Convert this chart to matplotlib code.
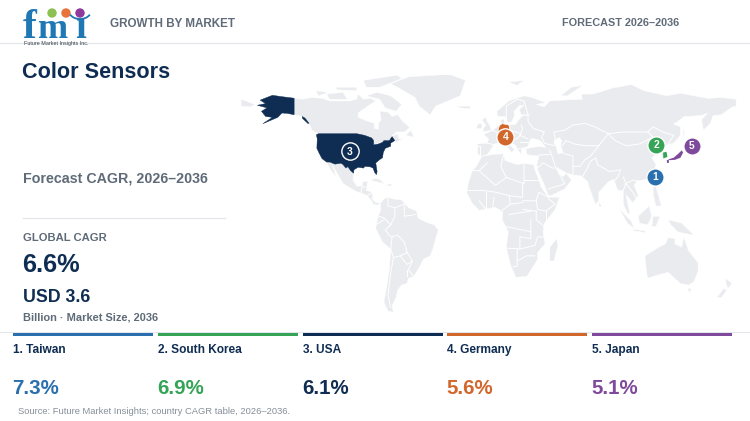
import matplotlib
matplotlib.use("Agg")
import matplotlib.pyplot as plt
from matplotlib.patches import Polygon, Circle, Rectangle, Arc

plt.rcParams['font.family'] = ['Liberation Sans', 'DejaVu Sans']

NAVY = '#0f2d52'; GREY = '#5f6b78'; LAND = '#e9ebee'; RULE = '#e3e6ea'
BLUE = '#2b70ae'; GREEN = '#36a457'; ORANGE = '#d2672c'; PURPLE = '#7f4a9c'

markets = ['1. Taiwan', '2. South Korea', '3. USA', '4. Germany', '5. Japan']
cagr = ['7.3%', '6.9%', '6.1%', '5.6%', '5.1%']
colors = [BLUE, GREEN, NAVY, ORANGE, PURPLE]
marker_lon = [121.7, 122.4, -102.9, 11.4, 148.3]
marker_lat = [24.1, 42.4, 38.8, 47.3, 41.9]
card_x = [13, 158, 303, 447, 592]

land = [
 [(-141,69.6),(-135,69),(-128,70),(-120,69.5),(-115,68),(-108,68),(-100,68),(-95,69),(-94,72),(-90,69),(-85,69.5),(-81,68),(-87,65),(-94,61),(-94,58.5),(-88,56.5),(-82,55),(-82,52),(-79,51.5),(-79,55),(-77,57),(-78,62),(-72,61.5),(-69,59),(-65,60),(-61,56),(-56,52.5),(-60,50),(-66,50),(-70,47),(-65,49),(-64,46),(-61,46),(-66,44),(-67,45),(-69,47),(-71,45),(-75,45),(-79,43.5),(-83,42),(-82,45),(-88,48),(-95,49),(-123,49),(-128,51),(-130,55),(-135,59),(-141,60)],
 [(-117,32.5),(-114.8,32.5),(-111,31.3),(-106.5,31.8),(-105,31),(-103,29),(-101.5,29.8),(-99.5,27.5),(-97.3,26),(-97.8,22),(-95,18.5),(-91,18.5),(-90.5,21),(-87,21.5),(-88,16),(-83.5,15),(-83.5,11),(-81,9),(-77.5,8.5),(-79.5,7.5),(-83,8),(-87,13),(-92,14.5),(-96,15.7),(-105,20),(-109,25.5),(-113,31),(-110,23.5),(-115,29)],
 [(-77.5,8.5),(-75,11),(-72,12),(-68,11),(-62,10.5),(-57,6),(-51,4),(-50,0),(-44,-2.5),(-38,-4),(-35,-7),(-37,-12),(-39,-18),(-41,-22),(-46,-24),(-48.5,-28),(-53,-34),(-57,-35),(-58,-38),(-62,-39),(-65,-42),(-66,-46),(-69,-51),(-68,-55),(-72,-54),(-75,-49),(-73,-40),(-71,-30),(-70,-18),(-76,-14),(-81,-6),(-80,-2),(-79,1.5),(-77.5,4)],
 [(-6,35.8),(3,37),(10,37.3),(11,33.5),(15,32.3),(20,31),(25,31.7),(32,31),(33,28),(36,22),(37.5,18),(43,12),(51,12),(48,5),(40,-3),(39,-8),(40.5,-15),(35,-20),(35,-24),(32,-28),(27,-34),(19,-34.5),(15,-27),(12,-17),(13.5,-8),(9,-1),(9.5,3.5),(4,6.2),(-4,5),(-8,4.5),(-13,8.5),(-17,14.5),(-16,20),(-13,27.5),(-10,30)],
 [(49,-12),(50,-16),(47,-25),(44,-25),(44,-17)],
 [(-9,37),(-9,43),(-2,43.5),(-1,46),(-4.5,48.5),(2,51),(6,53.5),(8.5,54),(8,57),(10.5,57.5),(10.5,54.5),(14,54),(19,54.5),(21,57),(24,59.3),(30,60),(23,60),(21.5,63),(25,65.5),(22,65.5),(17.5,62),(18,59.5),(16,56),(13,55.5),(11,59),(5.5,59),(5,62),(14,68),(25,71),(31,70),(41,67),(34,66),(40,64.5),(44,68),(54,68.5),(68,69),(67,72),(75,72),(80,73),(90,75.5),(104,77.5),(113,74),(130,71),(140,72.5),(160,69.5),(170,70),(181,69),(181,65),(178,64.5),(170,60),(164,59.5),(162,55),(157,51),(155.5,57),(160,61),(155,59.5),(143,59),(135,54.5),(140,53),(140,48),(135,43.5),(130,42.5),(127.5,39.5),(129.5,36),(127,34.5),(126,37),(125,39.7),(121,39),(118,39),(122,37),(119,35),(122,31),(120,26),(114,22.3),(108,21.5),(106,19),(109,13),(105,9),(100,13.5),(103,2),(101,3),(98,8),(98,16),(94,16),(91,22.5),(87,21),(80,15),(80,10),(77.5,8),(73,18),(72,21),(67,24.5),(61,25),(57,26),(52,28),(48,30),(51,25),(54,24),(56,26),(60,22),(55,17),(45,13),(43,13),(39,21),(35,28),(34.5,31),(36,36),(30,36.5),(27,37),(26.5,40),(31,41),(36,41.5),(41,41),(37,45),(33,46),(30,46),(28,42),(26,40.5),(23,40),(23,37),(20,40),(19,42),(14,45),(12.5,44),(18,40),(16,38),(12,42),(8.5,44),(3,43),(0,39),(-2,37),(-5.5,36)],
 [(-5,50),(1,51),(0,53.5),(-2,56),(-3,58.5),(-6,57),(-3,54),(-5,52)],
 [(-10,52),(-6,52),(-6,55),(-9,54.5)],
 [(-24,65),(-14,65),(-15,63.5),(-22,64)],
 [(-73,78),(-60,82),(-30,83.5),(-18,80),(-22,71),(-40,65),(-44,60),(-52,65),(-55,70),(-68,76)],
 [(-80,73),(-70,71),(-62,66),(-66,62),(-74,64),(-78,69),(-88,71)],
 [(-117,72),(-105,73),(-102,69),(-115,69)],
 [(-90,80),(-65,83),(-62,81),(-78,76),(-88,76)],
 [(-125,74),(-116,73),(-123,71)],
 [(-110,76),(-95,76),(-95,74),(-110,74.5)],
 [(-59,48),(-53,47),(-55,51)],
 [(-85,22),(-75,20),(-78,22.5),(-82,23)],
 [(-74,19),(-69,18.5),(-70,20)],
 [(14,79),(25,80),(20,77)],
 [(52,71),(57,71),(68,77),(60,76)],
 [(142,54),(143,49),(142,46),(142,50)],
 [(80,9.5),(82,7),(80.5,6)],
 [(120,18),(122,18),(124,13),(126,7),(122,7),(120,14)],
 [(109,1),(117,7),(119,1),(116,-4),(110,-3)],
 [(95,5.5),(104,-2),(106,-6),(101,-3)],
 [(105,-6.5),(114,-7.5),(114,-8.5),(106,-7.5)],
 [(120,1),(125,1),(122,-5),(119,-5)],
 [(131,-1),(141,-3),(150,-10),(143,-9),(138,-8),(133,-4)],
 [(114,-22),(122,-18),(129,-15),(131,-11.5),(136,-12),(136,-15),(141,-17),(142.5,-11),(146,-19),(153,-26),(153,-31),(150,-37),(146,-39),(140,-38),(135,-34.5),(131,-31.5),(124,-33),(116,-35),(115,-31)],
 [(145,-41),(148,-41),(147,-43.5)],
 [(173,-35),(178,-38),(175,-41),(174,-39)],
 [(172,-41),(174,-42),(170,-46.5),(167,-46)],
 [(-180,69),(-170,66),(-173,64.5),(-180,65)],
]
caspian = [(47,45),(51,47),(53,45),(52,42),(54,38),(50,37),(49,40)]
borders = [
 [(28,60),(28,56),(32,52),(40,50),(38,47),(40,43.5),(47,42),(48,46),(47,50),(55,51),(61,54),(70,55),(77,53),(87,49),(98,50),(107,50),(116,50),(120,53),(127,50),(135,48),(131,43)],
 [(87,49),(92,45),(100,42),(110,43),(120,47),(116,50)],
 [(53,42),(56,45),(62,43),(70,42),(80,42),(87,49)],
 [(68,24),(71,28),(74,33),(78,35),(79,31),(88,27),(96,28),(94,24),(92,22)],
 [(61,25),(61,30),(66,30),(70,34),(74,36),(80,42)],
 [(48,30),(46,35),(44,39.5)],
 [(54,37.5),(61,36),(61,30)],
 [(35,29),(39,32),(46,29),(48,29)],
 [(43,17),(52,19),(55,20),(52,24)],
 [(36,36.5),(44,37)],
 [(98,24),(100,20),(105,22),(108,21.5)],
 [(100,20),(105,15),(107,12)],
 [(98,16),(100,20)],
 [(2,51),(7,49),(7,46),(14,46),(20,46),(22,48),(24,52),(23,54)],
 [(14,54),(15,51),(23,49)],
 [(-2,43.5),(3,42.5)],
 [(-7,37),(-7,42),(-9,42)],
 [(22,48),(28,46)],
 [(22,44),(28,44)],
 [(20,40),(26,41)],
 [(12,56),(12,65),(20,69),(25,68),(28,60)],
 [(-8,27.5),(-2,32)],
 [(-13,27.5),(-8,27.5),(4,19),(12,23.5),(25,20),(25,31.7)],
 [(25,22),(36,22)],
 [(10,37),(8,30),(12,23.5)],
 [(-16,16),(-5,16),(4,15),(14,13),(24,12),(24,20)],
 [(24,10),(34,10),(36,15),(43,12)],
 [(34,10),(35,5),(41,4),(48,8),(43,11)],
 [(41,4),(41,-2)],
 [(34,4),(34,-1),(40,-5)],
 [(14,13),(15,8),(9,4.5)],
 [(15,8),(24,9)],
 [(24,5),(34,4)],
 [(14,2),(30,4)],
 [(12,-5),(30,-8)],
 [(30,-1),(30,-12),(22,-11),(22,-18),(12,-17.5)],
 [(20,-18),(20,-28),(17,-28.5)],
 [(22,-18),(33,-16),(35,-11),(40,-11)],
 [(33,-22),(27,-22),(20,-25)],
 [(-8,10),(-3,5)],
 [(-3,15),(-3,5)],
 [(3,12),(2,6)],
 [(-72,12),(-72,7),(-67,6),(-67,1),(-70,-4),(-74,-7),(-70,-11),(-65,-10),(-60,-14),(-58,-20),(-54,-25),(-57,-30),(-53,-34)],
 [(-60,5),(-60,1),(-52,2)],
 [(-67,6),(-60,8),(-60,5)],
 [(-79,1),(-75,0),(-70,-4)],
 [(-80,-3.5),(-75,-1)],
 [(-70,-18),(-69,-11)],
 [(-70,-18),(-68,-23),(-70,-32),(-72,-45),(-70,-52)],
 [(-68,-23),(-63,-22),(-58,-20)],
 [(-63,-22),(-58,-27),(-54,-25)],
 [(-58,-34),(-58,-30)],
 [(-92,14.5),(-91,18),(-89,18)],
 [(-87,13),(-83.5,15)],
 [(-85,11),(-83,8)],
]
usa = [
 [(-124.7,48.4),(-123,49),(-95,49),(-89,48),(-84,46.5),(-82.5,45),(-82.5,42.5),(-79,43),(-76,44),(-75,45),(-71,45),(-69,47.3),(-67,45),(-70,43.5),(-70,41.7),(-74,40.5),(-75.5,38),(-76,35),(-78,34),(-81,32),(-80,27),(-80.5,25.2),(-81.8,26.5),(-83,29),(-85,29.7),(-89,30),(-90,29),(-94,29.5),(-97,28),(-97.3,26),(-99.5,27.5),(-101.5,29.8),(-103,29),(-105,31),(-106.5,31.8),(-111,31.3),(-114.8,32.5),(-117.1,32.5),(-120.5,34.5),(-122.5,37.5),(-124.3,40.5),(-124,46)],
 [(-141,69.6),(-150,70.5),(-157,71.3),(-166,68.5),(-162,66.5),(-168,65.5),(-161,64),(-165,62),(-162,59),(-157,58.5),(-164,54.8),(-153,58.5),(-150,61),(-146,60.8),(-141,60)],
 [(-135,59),(-133,58),(-130,55),(-131,55),(-135,58)],
]
germany = [(6,51),(7,53.7),(9,54.8),(14,54),(15,51),(13,48),(8,47.6)]
korea = [(127.3,38),(129.8,38.5),(130.5,35.5),(127.5,34.6)]
japan = [
 [(130,33.6),(131.5,33.8),(131.5,32),(130.2,32)],
 [(131,34),(135,35),(138,37),(141,39.3),(142,38),(140,35),(136,33.8),(132,33.6)],
]
AMERICAS_NUDGE = 3

def nudged(pts):
    if sum(p[0] for p in pts) / len(pts) < -50:
        return [(x - AMERICAS_NUDGE, y) for x, y in pts]
    return pts

fig = plt.figure(figsize=(7.5, 4.21), dpi=100, facecolor='white')

mp = fig.add_axes([235/750, 1-325/421, 515/750, 250/421])
mp.set_xlim(-187.5, 191.2); mp.set_ylim(-62.2, 83.1); mp.axis('off')
for poly in land:
    mp.add_patch(Polygon(nudged(poly), closed=True, fc=LAND, ec='white', lw=0.3))
mp.add_patch(Polygon(caspian, closed=True, fc='white', ec='none'))
for line in borders:
    xs, ys = zip(*nudged(line))
    mp.plot(xs, ys, color='white', lw=0.7, solid_joinstyle='round')
for poly in usa:
    mp.add_patch(Polygon(nudged(poly), closed=True, fc=NAVY, ec=NAVY, lw=0.3))
mp.add_patch(Polygon(germany, closed=True, fc=ORANGE, ec='white', lw=0.4))
mp.add_patch(Polygon(korea, closed=True, fc=GREEN, ec='none'))
for poly in japan:
    mp.add_patch(Polygon(poly, closed=True, fc=PURPLE, ec='none'))
for i, (lo, la, c) in enumerate(zip(marker_lon, marker_lat, colors)):
    mp.scatter([lo], [la], s=155, color=c, edgecolors='white', linewidths=1.0, zorder=5)
    mp.text(lo, la - 0.2, str(i + 1), color='white', fontsize=7.4, fontweight='bold',
            ha='center', va='center', zorder=6)

ax = fig.add_axes([0, 0, 1, 1], facecolor='none')
ax.set_xlim(0, 750); ax.set_ylim(421, 0); ax.axis('off')

ax.plot([0, 750], [42.5, 42.5], color=RULE, lw=0.9)
ax.plot([23, 225], [218, 218], color=RULE, lw=0.9)
ax.plot([0, 750], [332, 332], color=RULE, lw=0.7)

ax.text(110, 26.7, 'GROWTH BY MARKET', color=GREY, fontsize=8.4, fontweight='bold')
ax.text(562, 26.5, 'FORECAST 2026–2036', color=GREY, fontsize=7.8, fontweight='bold')
ax.text(22, 77.7, 'Color Sensors', color=NAVY, fontsize=15.6, fontweight='bold')
ax.text(23, 182.8, 'Forecast CAGR, 2026–2036', color=GREY, fontsize=10.3, fontweight='bold')
ax.text(23, 241, 'GLOBAL CAGR', color=GREY, fontsize=8.15, fontweight='bold')
ax.text(22.2, 272.5, '6.6%', color=NAVY, fontsize=18.3, fontweight='bold')
ax.text(23, 302, 'USD 3.6', color=NAVY, fontsize=12.8, fontweight='bold')
ax.text(23, 320, 'Billion · Market Size, 2036', color=GREY, fontsize=7.88, fontweight='bold')

for x0, name, val, c in zip(card_x, markets, cagr, colors):
    ax.add_patch(Rectangle((x0, 333), 140, 3, fc=c, ec='none'))
    ax.text(x0, 352.7, name, color=NAVY, fontsize=8.6, fontweight='bold')
    ax.text(x0 - 0.8, 394, val, color=c, fontsize=14.8, fontweight='bold')
ax.text(18, 414, 'Source: Future Market Insights; country CAGR table, 2026–2036.',
        color='#858e98', fontsize=6.78)

LOGO = '#1f78b4'
for x, letter, fs in zip((23, 38, 75), ('f', 'm', 'ı'), (30, 26, 28)):
    ax.text(x, 38, letter, color=LOGO, fontsize=fs, fontweight='bold', family='Liberation Serif')
for y in (20, 24.5, 29, 33.5):
    ax.plot([22, 92], [y, y], color='white', lw=0.6)
for x, c in zip((52, 66, 80), ('#8cc152', '#e8743b', '#8e3a9d')):
    ax.add_patch(Circle((x, 13), 4.7, fc=c, ec='none'))
ax.add_patch(Arc((80, 11), 22, 16, theta1=20, theta2=160, color=LOGO, lw=1.3))
ax.text(56, 43.3, 'Future Market Insights Inc.', color='#333d47', fontsize=3.9, ha='center', va='center')

fig.savefig('out.png', dpi=100)
